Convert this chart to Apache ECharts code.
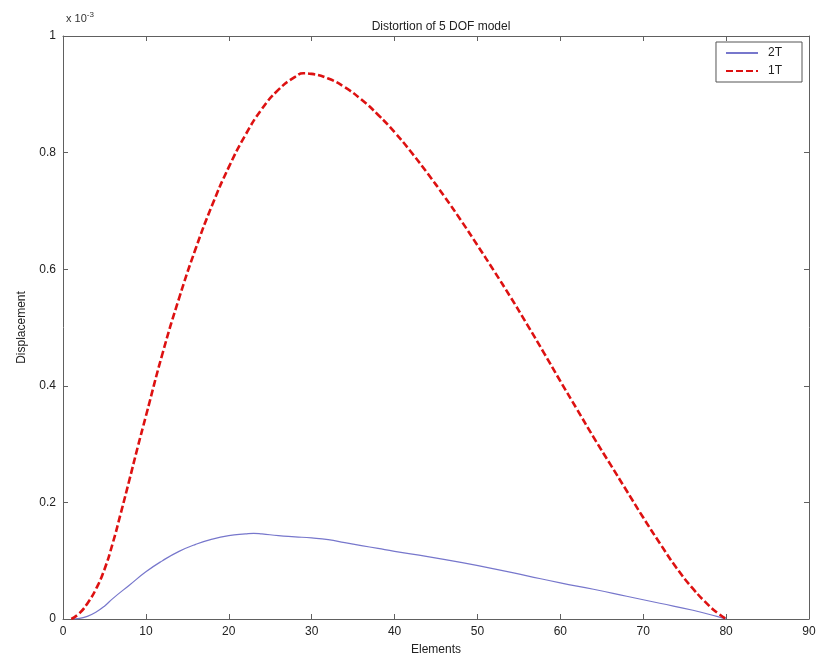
<!DOCTYPE html>
<html>
<head>
<meta charset="utf-8">
<script src="https://cdn.jsdelivr.net/npm/echarts@6/dist/echarts.min.js"></script>
<style>html,body{margin:0;padding:0;background:#fff;}#c{width:820px;height:664px;}</style>
</head>
<body>
<div id="c"></div>
<script>
// Data in units of 1e-3
const elements2T = [1,2,3,4,5,6,8,10,12,14,16,18,20,22,23,24,26,28,30,32,34,36,38,40,44,48,52,56,60,64,68,72,76,79,80];
const values2T   = [0,0.001,0.005,0.012,0.022,0.035,0.058,0.081,0.100,0.116,0.128,0.137,0.143,0.146,0.147,0.146,0.143,0.141,0.139,0.136,0.131,0.126,0.121,0.116,0.107,0.097,0.086,0.074,0.062,0.051,0.039,0.027,0.015,0.004,0];
const elements1T = [1,2,3,4,5,6,7,8,9,10,12,14,16,18,20,22,24,26,28,29,30,32,34,36,38,40,42,44,46,48,50,52,54,56,58,60,62,64,66,68,70,72,74,76,78,79,80];
const values1T   = [0,0.01,0.028,0.052,0.085,0.13,0.183,0.238,0.294,0.348,0.455,0.55,0.635,0.71,0.775,0.83,0.875,0.908,0.93,0.936,0.935,0.927,0.912,0.891,0.865,0.835,0.801,0.764,0.725,0.684,0.641,0.597,0.552,0.505,0.457,0.408,0.36,0.312,0.266,0.22,0.174,0.13,0.088,0.052,0.022,0.01,0];
const xTicks = {min:0, max:90, interval:10};
const yTicks = {min:0, max:1, interval:0.2};
const titleText = 'Distortion of 5 DOF model';
const xName = 'Elements';
const yName = 'Displacement';

const pair = (xs, ys) => xs.map((x,i)=>[x, ys[i]]);
const font = 'Liberation Sans, Arial, Helvetica, sans-serif';
const axisCol = '#606060';

const chart = echarts.init(document.getElementById('c'));
const axisBase = () => ({
  type:'value', splitLine:{show:false},
  axisLine:{show:true, onZero:false, lineStyle:{color:axisCol, width:1}},
  axisTick:{show:true, inside:true, length:5, lineStyle:{color:axisCol}},
});
chart.setOption({
  animation:false,
  backgroundColor:'#fff',
  title:{text:titleText, left:436, top:16, textAlign:'center',
    textStyle:{fontFamily:font, fontSize:12, fontWeight:'normal', color:'#222'}},
  graphic:[{type:'text', left:66, top:11,
    style:{text:'x 10{s|-3}', rich:{s:{fontSize:8, verticalAlign:'top', padding:[0,0,8,0], fontFamily:font, fill:'#333'}},
      font:'11px Liberation Sans, Arial, sans-serif', fill:'#333'}}],
  legend:{
    right:18, top:42, orient:'vertical', itemWidth:32, itemHeight:12, itemGap:6,
    padding:[5,20,5,9], borderColor:'#555', borderWidth:1, backgroundColor:'#fff',
    textStyle:{fontFamily:font, fontSize:12, color:'#222', padding:[0,0,0,5]},
    itemStyle:{opacity:0},
    data:['2T','1T']
  },
  grid:{left:63, right:11, top:36, bottom:45},
  xAxis:[
    Object.assign(axisBase(), {min:xTicks.min, max:xTicks.max, interval:xTicks.interval, position:'bottom',
      name:xName, nameLocation:'middle', nameGap:25,
      nameTextStyle:{fontFamily:font, fontSize:12, color:'#222'},
      axisLabel:{fontFamily:font, fontSize:12, color:'#222', margin:7}}),
    Object.assign(axisBase(), {min:xTicks.min, max:xTicks.max, interval:xTicks.interval, position:'top',
      axisLabel:{show:false}})
  ],
  yAxis:[
    Object.assign(axisBase(), {min:yTicks.min, max:yTicks.max, interval:yTicks.interval, position:'left',
      name:yName, nameLocation:'middle', nameGap:35, nameRotate:90,
      nameTextStyle:{fontFamily:font, fontSize:12, color:'#222'},
      axisLabel:{fontFamily:font, fontSize:12, color:'#222', margin:7,
        formatter:v=> (v===0||v===1)? String(v) : v.toFixed(1)}}),
    Object.assign(axisBase(), {min:yTicks.min, max:yTicks.max, interval:yTicks.interval, position:'right',
      axisLabel:{show:false}})
  ],
  series:[
    {name:'2T', type:'line', smooth:0.5, symbol:'none', data:pair(elements2T, values2T),
      lineStyle:{color:'#7777cc', width:1.2}, itemStyle:{color:'#7777cc'}},
    {name:'1T', type:'line', smooth:0.5, symbol:'none', data:pair(elements1T, values1T),
      lineStyle:{color:'#dd1111', width:2.6, type:[7,3]}, itemStyle:{color:'#dd1111'}}
  ]
});
</script>
</body>
</html>
